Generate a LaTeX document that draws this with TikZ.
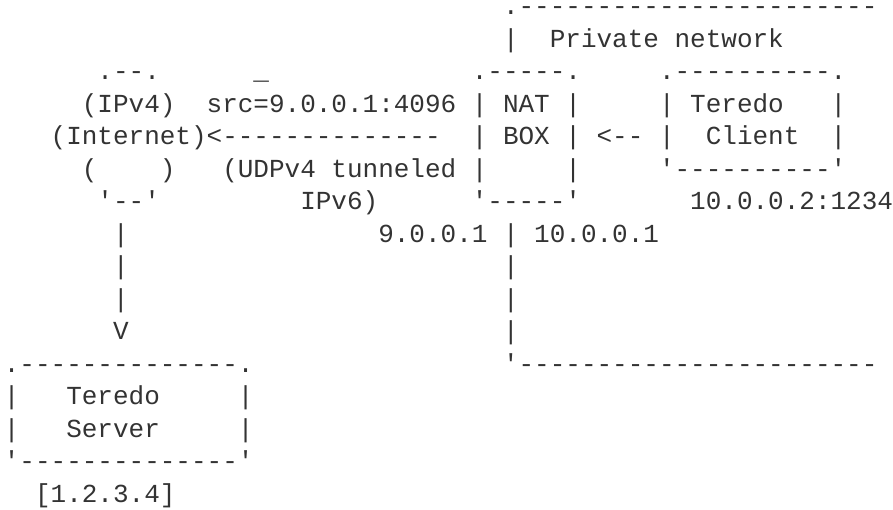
\documentclass[tikz,border=0pt]{standalone}
\usepackage{fontspec}
\setmonofont{Liberation Mono}
\definecolor{ink}{HTML}{333333}

\begin{document}
\begin{tikzpicture}[x=7.8pt, y=-16.25pt,
    ascii/.style={inner sep=0pt, outer sep=0pt, anchor=base west, text=ink,
      font=\ttfamily\fontsize{13pt}{16.25pt}\selectfont}]
  \useasboundingbox (-0.25,-0.455) rectangle (57,15.237);

  % private network frame
  \node[ascii] (privtop) at (32,0) {.-----------------------};
  \node[ascii] (privside) at (32,1) {|};
  \node[ascii] (privlbl) at (35,1) {Private network};
  \node[ascii] (privbot) at (32,11) {'-----------------------};
  \foreach \r in {8,9,10}
    \node[ascii] at (32,\r) {|};

  % IPv4 internet cloud
  \node[ascii] (inettop) at (6,2) {.--.};
  \node[ascii] (inetv4) at (5,3) {(IPv4)};
  \node[ascii] (inetlbl) at (3,4) {(Internet)<--------------};
  \node[ascii] (inetl) at (5,5) {(};
  \node[ascii] (inetr) at (10,5) {)};
  \node[ascii] (inetbot) at (6,6) {'--'};

  % tunnel label
  \node[ascii] (uscore) at (16,2) {\_};
  \node[ascii] (src) at (13,3) {src=9.0.0.1:4096};
  \node[ascii] (udp) at (14,5) {(UDPv4 tunneled};
  \node[ascii] (ipv6) at (19,6) {IPv6)};

  % NAT box
  \node[ascii] (nattop) at (30,2) {.-----.};
  \node[ascii] (natA) at (30,3) {| NAT |};
  \node[ascii] (natB) at (30,4) {| BOX |};
  \node[ascii] (natCl) at (30,5) {|};
  \node[ascii] (natCr) at (36,5) {|};
  \node[ascii] (natbot) at (30,6) {'-----'};
  \node[ascii] (natips) at (24,7) {9.0.0.1 | 10.0.0.1};

  % Teredo client
  \node[ascii] (arrow) at (38,4) {<--};
  \node[ascii] (clitop) at (42,2) {.----------.};
  \node[ascii] (cliAl) at (42,3) {| Teredo};
  \node[ascii] (cliAr) at (53,3) {|};
  \node[ascii] (cliBl) at (42,4) {|};
  \node[ascii] (clilbl) at (45,4) {Client};
  \node[ascii] (cliBr) at (53,4) {|};
  \node[ascii] (clibot) at (42,5) {'----------'};
  \node[ascii] (cliaddr) at (44,6) {10.0.0.2:1234};

  % link down to the server
  \foreach \r in {7,8,9}
    \node[ascii] at (7,\r) {|};
  \node[ascii] (down) at (7,10) {V};

  % Teredo server
  \node[ascii] (srvtop) at (0,11) {.--------------.};
  \node[ascii] (srvAl) at (0,12) {|};
  \node[ascii] (srvA) at (4,12) {Teredo};
  \node[ascii] (srvAr) at (15,12) {|};
  \node[ascii] (srvBl) at (0,13) {|};
  \node[ascii] (srvB) at (4,13) {Server};
  \node[ascii] (srvBr) at (15,13) {|};
  \node[ascii] (srvbot) at (0,14) {'--------------'};
  \node[ascii] (srvaddr) at (2,15) {[1.2.3.4]};
\end{tikzpicture}
\end{document}
